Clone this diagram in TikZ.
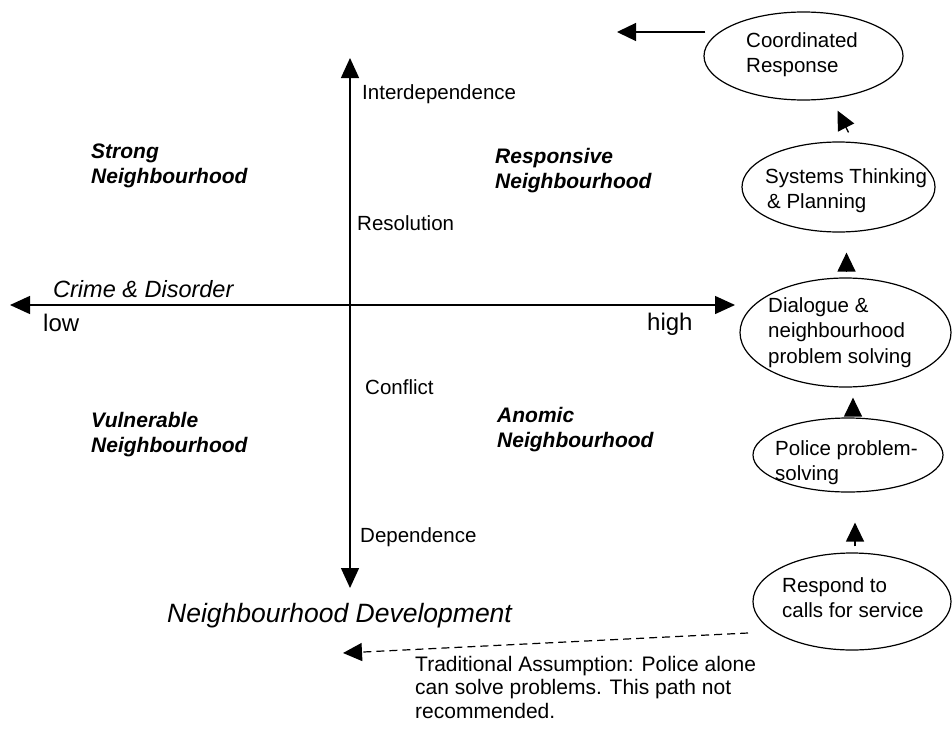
\documentclass[tikz,border=0pt]{standalone}
\usepackage{fontspec}
\setmainfont{Liberation Sans}
\usetikzlibrary{arrows.meta,shapes.geometric,calc}
\begin{document}
\begin{tikzpicture}[x=1pt,y=-1pt,
  every node/.style={inner sep=0pt},
  txt/.style={anchor=base west, align=left, font=\fontsize{20.5}{25.5}\selectfont},
  quad/.style={anchor=base west, align=left, font=\fontsize{21}{25}\selectfont\bfseries\itshape},
  big/.style={anchor=base west, font=\fontsize{#1}{#1}\selectfont\itshape},
  ends/.style={anchor=base west, font=\fontsize{24}{28}\selectfont},
  ell/.style={draw, ellipse, line width=1.2pt},
  axis/.style={line width=1.4pt, {Triangle[length=20pt,width=18pt]}-{Triangle[length=20pt,width=18pt]}},
  arr/.style={line width=1.3pt, -{Triangle[length=19pt,width=18pt]}},
]
\useasboundingbox (0,0) rectangle (952,728);

% axes
\coordinate (xL) at (10,305);
\coordinate (xR) at (735,305);
\coordinate (yT) at (350,58);
\coordinate (yB) at (350,588);
\draw[axis] (xL) -- (xR);
\draw[axis] (yT) -- (yB);

% axis labels
\node[big=23.5] (crime) at (53,297) {Crime \& Disorder};
\node[ends] (low) at (43,331) {low};
\node[ends] (high) at (647,330) {high};
\node[big=26.5] (devel) at (167,622) {Neighbourhood Development};
\node[txt] (interdep) at (362,99) {Interdependence};
\node[txt] (resol) at (357,230) {Resolution};
\node[txt] (confl) at (365,394) {Conflict};
\node[txt] (dep) at (360,542) {Dependence};

% quadrant labels (base = last line)
\node[quad] (strong) at (91,183) {Strong\\Neighbourhood};
\node[quad] (respons) at (495,188) {Responsive\\Neighbourhood};
\node[quad] (vuln) at (91,452) {Vulnerable\\Neighbourhood};
\node[quad] (anomic) at (497,447) {Anomic\\Neighbourhood};

% ellipses
\node[ell, minimum width=199pt, minimum height=88pt] (coord) at (803.5,56) {};
\node[txt] (coordT) at (746,72.5) {Coordinated\\Response};
\node[ell, minimum width=193pt, minimum height=90pt] (systems) at (838.5,187) {};
\node[txt] (systemsT) at (765,208.5) {Systems Thinking\\\hspace{2pt}\& Planning};
\node[ell, minimum width=211pt, minimum height=109pt] (dialogue) at (845.5,332.5) {};
\node[txt] (dialogueT) at (768,363) {Dialogue \&\\neighbourhood\\problem solving};
\node[ell, minimum width=190pt, minimum height=74pt] (police) at (848,455) {};
\node[txt] (policeT) at (775,480.5) {Police problem-\\solving};
\node[ell, minimum width=198pt, minimum height=97pt] (respond) at (852,601.5) {};
\node[txt] (respondT) at (782,617.5) {Respond to\\calls for service};

% right-column connectors
\draw[arr, shorten <=6pt, shorten >=30pt] ([xshift=3pt]respond.north) -- ([xshift=3pt]respond.north |- police.south);
\draw[arr, shorten <=6pt, shorten >=10pt] ([xshift=5pt]police.north) -- ([xshift=5pt]police.north |- dialogue.south);
\draw[arr, shorten <=6pt, shorten >=20pt] ([xshift=1pt]dialogue.north) -- ([xshift=1pt]dialogue.north |- systems.south);
\draw[arr] ($(systems.north)+(10,-9)$) -- ($(coord.south)+(34,10)$);
\coordinate (cout) at (617,32);
\draw[arr] ($(coord.west)+(2,-24)$) -- (cout);

% traditional path
\coordinate (dashStart) at (748,633);
\coordinate (dashEnd) at (343,653);
\draw[arr, line width=1.2pt, dash pattern=on 8pt off 5pt] (dashStart) -- (dashEnd);
\node[anchor=base west, align=left, font=\fontsize{21}{23.5}\selectfont] (trad) at (415,718)
  {Traditional Assumption: Police alone\\can solve problems. This path not\\recommended.};
\end{tikzpicture}
\end{document}
